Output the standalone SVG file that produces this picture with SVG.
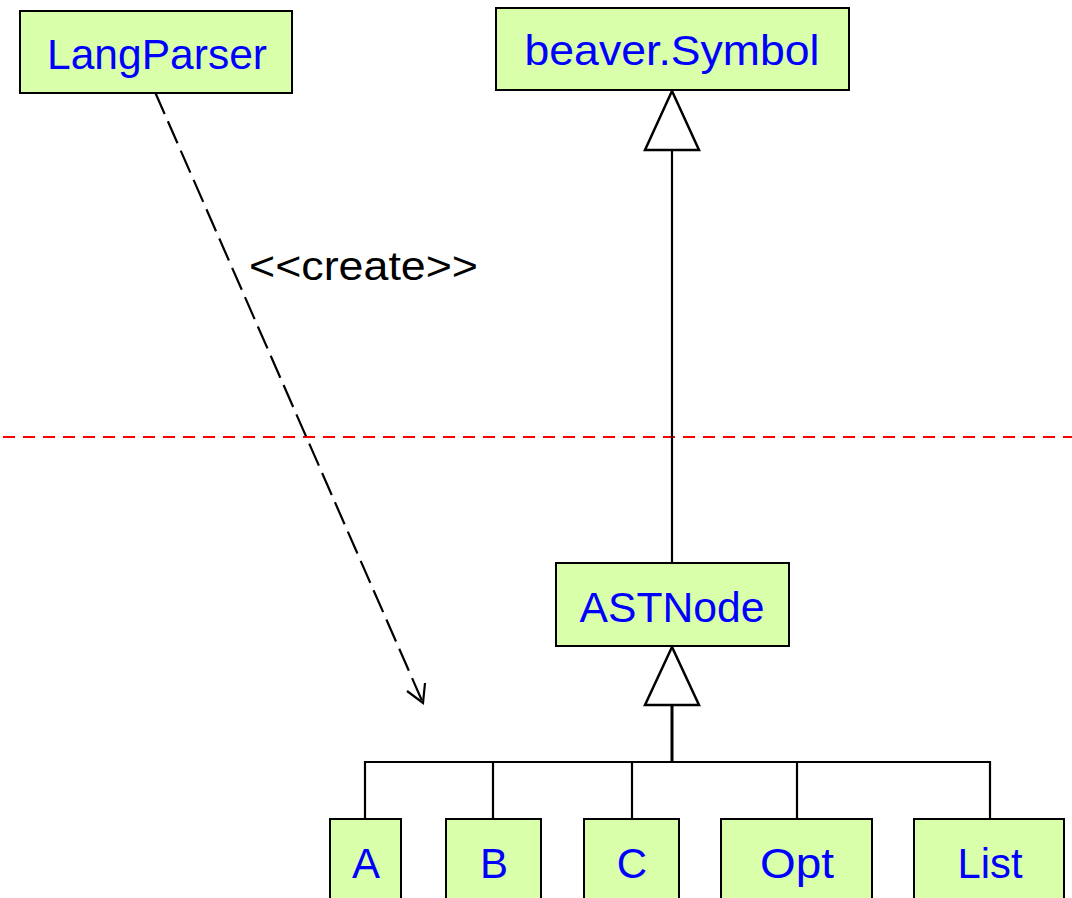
<svg xmlns="http://www.w3.org/2000/svg" width="1072" height="898" viewBox="0 0 1072 898">
<style>
.box{fill:#d9ffaa;stroke:#000;stroke-width:2}
.lbl{font-family:"Liberation Sans",Arial,sans-serif;font-size:42px;fill:#0000ff;text-anchor:middle}
.ln{stroke:#000;stroke-width:2.2;fill:none}
.tri{fill:#fff;stroke:#000;stroke-width:2.5;stroke-linejoin:miter}
.dash{stroke:#000;stroke-width:2.2;fill:none;stroke-dasharray:24 8}
.red{stroke:#ff0000;stroke-width:2;stroke-dasharray:12 8;fill:none}
.note{font-family:"Liberation Sans",Arial,sans-serif;font-size:40px;fill:#000}
</style>
<rect width="1072" height="898" fill="#fff"/>
<line class="red" x1="3" y1="437" x2="1072" y2="437"/>
<g id="connectors">
<line class="dash" x1="155" y1="92" x2="423" y2="703"/>
<polyline class="ln" points="407,691 423,703 425,683"/>
<text class="note" x="249" y="280" textLength="229" lengthAdjust="spacingAndGlyphs">&lt;&lt;create&gt;&gt;</text>
<line class="ln" x1="672" y1="150" x2="672" y2="563"/>
<polygon class="tri" points="672,91 645,150 699,150"/>
<line class="ln" x1="672" y1="705" x2="672" y2="762" style="stroke-width:3"/>
<polygon class="tri" points="672,647 645,705 699,705"/>
<polyline class="ln" points="365,819 365,762 990,762 990,819"/>
<line class="ln" x1="493" y1="762" x2="493" y2="819"/>
<line class="ln" x1="632" y1="762" x2="632" y2="819"/>
<line class="ln" x1="797" y1="762" x2="797" y2="819"/>
</g>
<g id="LangParser"><rect class="box" x="20" y="11" width="272" height="82"/><text class="lbl" x="157" y="69" textLength="220" lengthAdjust="spacingAndGlyphs">LangParser</text></g>
<g id="beaverSymbol"><rect class="box" x="496" y="8" width="353" height="82"/><text class="lbl" x="672" y="65" textLength="295" lengthAdjust="spacingAndGlyphs">beaver.Symbol</text></g>
<g id="ASTNode"><rect class="box" x="556" y="563" width="233" height="83"/><text class="lbl" x="672" y="622" textLength="185" lengthAdjust="spacingAndGlyphs">ASTNode</text></g>
<g id="A"><rect class="box" x="330" y="819" width="71" height="90"/><text class="lbl" x="366" y="878">A</text></g>
<g id="B"><rect class="box" x="446" y="819" width="95" height="90"/><text class="lbl" x="494" y="878">B</text></g>
<g id="C"><rect class="box" x="584" y="819" width="95" height="90"/><text class="lbl" x="632" y="878">C</text></g>
<g id="Opt"><rect class="box" x="721" y="819" width="151" height="90"/><text class="lbl" x="797" y="878" textLength="74" lengthAdjust="spacingAndGlyphs">Opt</text></g>
<g id="List"><rect class="box" x="914" y="819" width="150" height="90"/><text class="lbl" x="990" y="878" textLength="65" lengthAdjust="spacingAndGlyphs">List</text></g>
</svg>
